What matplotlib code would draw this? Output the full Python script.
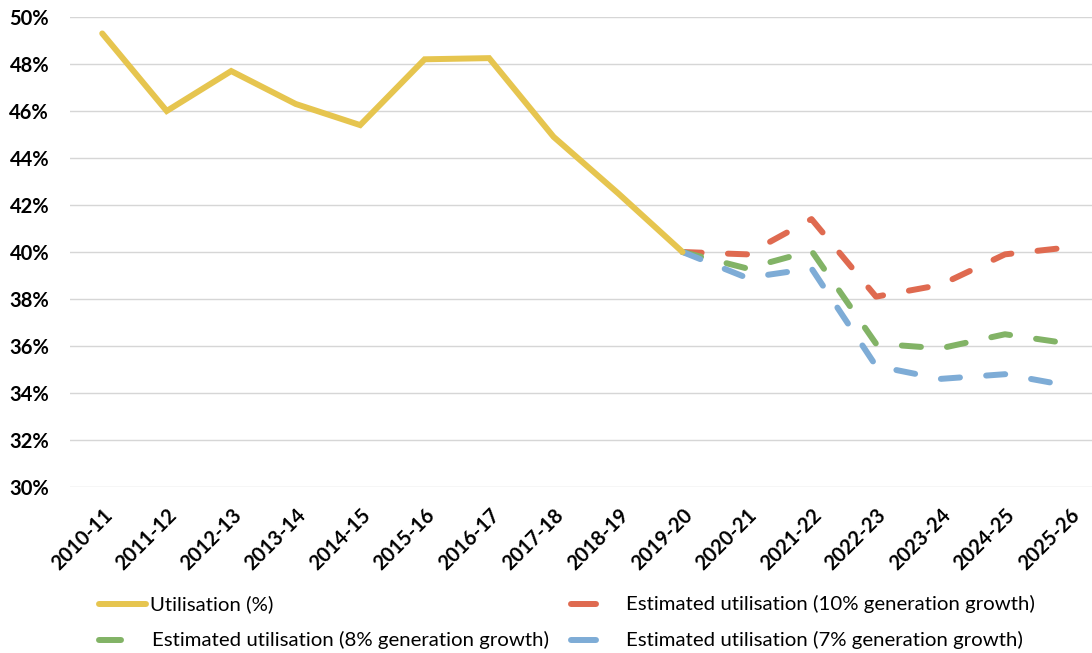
import matplotlib.pyplot as plt
from matplotlib.lines import Line2D
from matplotlib.ticker import FuncFormatter

years = ['2010-11', '2011-12', '2012-13', '2013-14', '2014-15', '2015-16', '2016-17', '2017-18',
         '2018-19', '2019-20', '2020-21', '2021-22', '2022-23', '2023-24', '2024-25', '2025-26']
utilisation = [49.3, 46.0, 47.7, 46.3, 45.4, 48.2, 48.25, 44.9, 42.5, 40.0]
# estimates start at 2019-20
est_10 = [40.0, 39.9, 41.4, 38.1, 38.6, 39.9, 40.2]
est_8 = [40.0, 39.3, 40.05, 36.1, 35.9, 36.5, 36.1]
est_7 = [40.0, 38.9, 39.3, 35.15, 34.6, 34.8, 34.3]

yellow = '#e6c54f'
red = '#df6a50'
green = '#82b366'
blue = '#7eacd6'

plt.rcParams['font.family'] = ['Lato', 'DejaVu Sans']

W, H = 1092, 653
fig = plt.figure(figsize=(W / 100, H / 100), dpi=100)
ax = fig.add_axes([70 / W, 1 - 487 / H, 1 - 70 / W, (487 - 17) / H])

x_util = list(range(len(utilisation)))
x_est = list(range(9, 9 + len(est_10)))

dash = (0, (3.2, 4.4))
ax.plot(x_est, est_10, color=red, lw=4.3, linestyle=dash, dash_capstyle='round', zorder=3)
ax.plot(x_est, est_8, color=green, lw=4.3, linestyle=dash, dash_capstyle='round', zorder=3)
ax.plot(x_est, est_7, color=blue, lw=4.3, linestyle=dash, dash_capstyle='round', zorder=3)
ax.plot(x_util, utilisation, color=yellow, lw=4.3, solid_capstyle='round',
        solid_joinstyle='miter', zorder=4)

ax.set_ylim(30, 50)
ax.set_yticks(range(30, 51, 2))
ax.yaxis.set_major_formatter(FuncFormatter(lambda v, p: f'{v:.0f}%'))
ax.set_xlim(-0.5, 15.35)
ax.set_xticks(range(len(years)))
ax.set_xticklabels(years, rotation=45, ha='right', rotation_mode='anchor')
ax.grid(axis='y', color='#d6d6d6', lw=1)
ax.set_axisbelow(True)
for s in ax.spines.values():
    s.set_visible(False)
ax.tick_params(length=0, labelsize=14.5)
ax.tick_params(axis='x', pad=13)
ax.tick_params(axis='y', pad=15)
for lbl in ax.get_xticklabels() + ax.get_yticklabels():
    lbl.set_fontweight('bold')

# legend drawn by hand: (bar start, bar end, text x, row y, colour, label)
legend_items = [
    (99, 146, 150, 604, yellow, 'Utilisation (%)'),
    (571, 596, 626, 604, red, 'Estimated utilisation (10% generation growth)'),
    (99, 121, 152, 640, green, 'Estimated utilisation (8% generation growth)'),
    (571, 596, 626, 640, blue, 'Estimated utilisation (7% generation growth)'),
]
for x0, x1, tx, y, c, text in legend_items:
    fig.add_artist(Line2D([x0 / W, x1 / W], [1 - y / H, 1 - y / H], color=c, lw=4.3,
                          solid_capstyle='round', transform=fig.transFigure))
    fig.text(tx / W, 1 - y / H, text, ha='left', va='center', fontsize=14.7)

fig.savefig('out.png', dpi=100)
